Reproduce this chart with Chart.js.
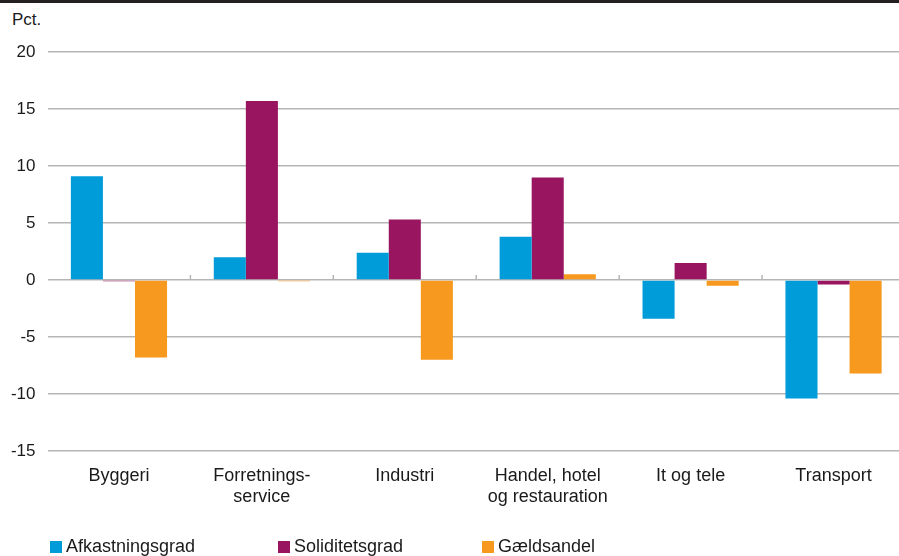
<!DOCTYPE html>
<html>
<head>
<meta charset="utf-8">
<script src="https://cdn.jsdelivr.net/npm/chart.js@4/dist/chart.umd.min.js"></script>
<style>
  html, body { margin: 0; padding: 0; background: #fff; overflow: hidden; }
  body { width: 899px; height: 556px; position: relative; font-family: "Liberation Sans", Arial, sans-serif; color: #1a1a1a; }
  #topbar { position: absolute; left: 0; top: 0; width: 899px; height: 3px; background: #231f20; }
  #unit { position: absolute; left: 12px; top: 10px; font-size: 17px; }
  #wrap { position: absolute; left: 0; top: 0; width: 905px; height: 556px; }
  #legend { position: absolute; left: 0; top: 536px; width: 899px; height: 20px; font-size: 18px; line-height: 21px; }
  .item { position: absolute; top: 0; white-space: nowrap; }
  .sw { display: inline-block; width: 12px; height: 12px; margin-right: 4px; vertical-align: -1px; }
</style>
</head>
<body>
<div id="topbar"></div>
<div id="unit">Pct.</div>
<div id="wrap"><canvas id="c" width="905" height="556"></canvas></div>
<div id="legend"></div>
<script>
// Sectors (category labels, multi-line where wrapped)
const categories = [
  "Byggeri",
  ["Forretnings-", "service"],
  "Industri",
  ["Handel, hotel", "og restauration"],
  "It og tele",
  "Transport"
];

// Series values, percent
const afkastningsgrad = [9.1, 2.0, 2.4, 3.8, -3.4, -10.4];
const soliditetsgrad  = [-0.1, 15.7, 5.3, 9.0, 1.5, -0.4];
const gaeldsandel     = [-6.8, -0.1, -7.0, 0.5, -0.5, -8.2];

const seriesNames = ["Afkastningsgrad", "Soliditetsgrad", "Gældsandel"];
const seriesColors = ["#009bd9", "#99155f", "#f7991e"];

// Y axis ticks
const yTicks = [20, 15, 10, 5, 0, -5, -10, -15];

const fontFamily = '"Liberation Sans", Arial, sans-serif';

// Small tick marks on the zero line between sectors
const zeroTicks = {
  id: 'zeroTicks',
  afterDatasetsDraw(chart) {
    const x = chart.scales.x, y = chart.scales.y;
    const y0 = y.getPixelForValue(0);
    const ctx = chart.ctx;
    ctx.save();
    ctx.strokeStyle = '#b5b5b5';
    ctx.lineWidth = 1.5;
    for (let i = 0; i < categories.length - 1; i++) {
      const bx = (x.getPixelForTick(i) + x.getPixelForTick(i + 1)) / 2;
      ctx.beginPath();
      ctx.moveTo(bx, y0);
      ctx.lineTo(bx, y0 - 5);
      ctx.stroke();
    }
    ctx.restore();
  }
};

const datasets = [afkastningsgrad, soliditetsgrad, gaeldsandel].map((d, i) => ({
  label: seriesNames[i],
  data: d,
  backgroundColor: seriesColors[i],
  borderWidth: 0,
  barPercentage: 1.0,
  categoryPercentage: 0.673
}));

new Chart(document.getElementById('c'), {
  type: 'bar',
  data: { labels: categories, datasets },
  plugins: [zeroTicks],
  options: {
    responsive: false,
    animation: false,
    layout: { padding: { top: 52, right: 0, bottom: 40, left: 0 } },
    plugins: { legend: { display: false }, tooltip: { enabled: false } },
    scales: {
      x: {
        grid: { display: false },
        border: { display: false },
        ticks: {
          color: '#1a1a1a',
          font: { family: fontFamily, size: 18, lineHeight: 1.15 },
          padding: 7,
          maxRotation: 0,
          autoSkip: false
        },
        afterFit(scale) { scale.height = 65; }
      },
      y: {
        min: -15,
        max: 20,
        afterBuildTicks(scale) { scale.ticks = yTicks.map(v => ({ value: v })); },
        grid: { color: '#b5b5b5', lineWidth: 1.5, drawTicks: false },
        border: { display: false },
        ticks: {
          color: '#1a1a1a',
          font: { family: fontFamily, size: 17 },
          padding: 12
        },
        afterFit(scale) { scale.width = 47.5; }
      }
    }
  }
});

// Legend row
const legend = document.getElementById('legend');
const legendX = [50, 278, 482];
seriesNames.forEach((name, i) => {
  const el = document.createElement('div');
  el.className = 'item';
  el.style.left = legendX[i] + 'px';
  el.innerHTML = '<span class="sw" style="background:' + seriesColors[i] + '"></span>' + name;
  legend.appendChild(el);
});
</script>
</body>
</html>
